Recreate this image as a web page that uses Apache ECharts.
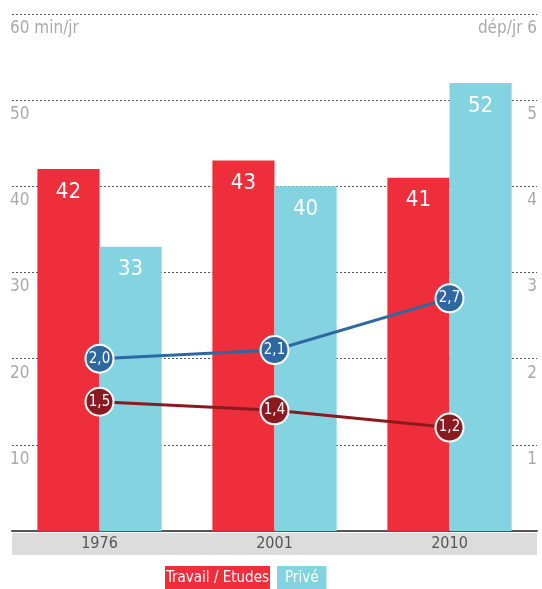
<!DOCTYPE html>
<html>
<head>
<meta charset="utf-8">
<script src="https://cdn.jsdelivr.net/npm/echarts@6/dist/echarts.min.js"></script>
<style>
  html, body { margin: 0; padding: 0; background: #fff; }
  #chart { width: 542px; height: 589px; }
</style>
</head>
<body>
<div id="chart"></div>
<script>
// Temps de déplacement (min/jr) et nombre de déplacements (dép/jr)
const years = ['1976', '2001', '2010'];
const travailEtudes = [42, 43, 41];
const prive = [33, 40, 52];
const depBleu = [2.0, 2.1, 2.7];
const depRouge = [1.5, 1.4, 1.2];
const leftTicks = { min: 0, max: 60, interval: 10, unit: 'min/jr' };
const rightTicks = { min: 0, max: 6, interval: 1, unit: 'dép/jr' };

const FONT = "'Liberation Sans Narrow', 'DejaVu Sans Condensed', 'Roboto', sans-serif";
const RED = '#ee2f3b';
const CYAN = '#84d3e1';
const BLUE = '#2e68a3';
const DARKRED = '#8a1a1f';

const chart = echarts.init(document.getElementById('chart'));

const fmtComma = v => v.toFixed(1).replace('.', ',');

const lineSeries = (name, data, color) => ({
  name: name,
  type: 'line',
  yAxisIndex: 1,
  data: data,
  z: 5,
  symbol: 'circle',
  symbolSize: 28,
  lineStyle: { color: color, width: 3 },
  itemStyle: { color: color, borderColor: '#fff', borderWidth: 2 },
  label: {
    show: true,
    position: 'inside',
    color: '#fff',
    fontFamily: FONT,
    fontSize: 15,
    formatter: p => fmtComma(p.value)
  },
  emphasis: { disabled: true }
});

const barLabel = {
  show: true,
  position: 'insideTop',
  distance: 12,
  color: '#fff',
  fontFamily: FONT,
  fontSize: 22
};

chart.setOption({
  animation: false,
  backgroundColor: '#fff',
  grid: { left: 12, right: 5, top: 14, bottom: 58, containLabel: false },
  legend: {
    bottom: -2,
    left: 160,
    padding: 0,
    itemWidth: 0,
    itemHeight: 0,
    itemGap: 2,
    icon: 'none',
    selectedMode: false,
    data: [
      { name: 'Travail / Etudes', textStyle: { backgroundColor: RED, color: '#fff', padding: [5, 1, 5, 1] } },
      { name: 'Privé', textStyle: { backgroundColor: CYAN, color: '#fff', padding: [5, 8, 5, 8] } }
    ],
    textStyle: { fontFamily: FONT, fontSize: 15, padding: 0 }
  },
  xAxis: {
    type: 'category',
    data: years,
    axisLine: { show: true, lineStyle: { color: '#555', width: 2 } },
    axisTick: { show: false },
    axisLabel: {
      margin: 2,
      color: '#555',
      fontFamily: FONT,
      fontSize: 16,
      backgroundColor: '#dcdcdc',
      width: 175,
      height: 22,
      lineHeight: 22,
      align: 'center',
      padding: 0
    }
  },
  yAxis: [
    {
      type: 'value',
      min: leftTicks.min, max: leftTicks.max, interval: leftTicks.interval,
      axisLine: { show: false }, axisTick: { show: false },
      splitLine: { show: true, lineStyle: { color: '#555', type: [2, 2], width: 1 } },
      axisLabel: {
        inside: true,
        showMinLabel: false,
        margin: -2,
        align: 'left',
        verticalAlign: 'top',
        padding: [6, 0, 0, 0],
        color: '#aaa',
        fontFamily: FONT,
        fontSize: 17,
        formatter: v => v === leftTicks.max ? v + ' ' + leftTicks.unit : String(v)
      }
    },
    {
      type: 'value',
      min: rightTicks.min, max: rightTicks.max, interval: rightTicks.interval,
      axisLine: { show: false }, axisTick: { show: false },
      splitLine: { show: false },
      axisLabel: {
        inside: true,
        showMinLabel: false,
        margin: 0,
        align: 'right',
        verticalAlign: 'top',
        padding: [6, 0, 0, 0],
        color: '#aaa',
        fontFamily: FONT,
        fontSize: 17,
        formatter: v => v === rightTicks.max ? rightTicks.unit + ' ' + v : String(v)
      }
    }
  ],
  series: [
    {
      name: 'Travail / Etudes', type: 'bar', data: travailEtudes,
      barGap: '0%', barCategoryGap: '29%',
      itemStyle: { color: RED }, label: barLabel, emphasis: { disabled: true }
    },
    {
      name: 'Privé', type: 'bar', data: prive,
      itemStyle: { color: CYAN }, label: barLabel, emphasis: { disabled: true }
    },
    lineSeries('Déplacements (bleu)', depBleu, BLUE),
    lineSeries('Déplacements (rouge)', depRouge, DARKRED)
  ]
});
</script>
</body>
</html>
